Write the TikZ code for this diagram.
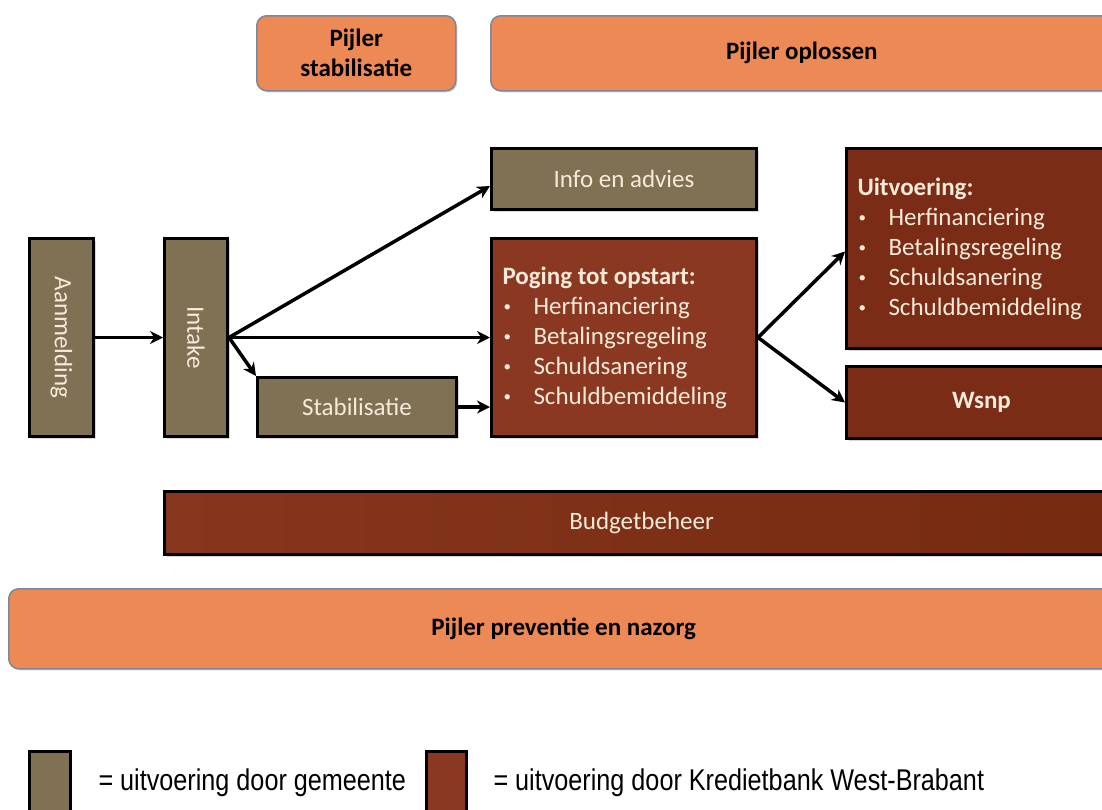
\documentclass[tikz,border=0pt]{standalone}
\usepackage{fontspec}
\setmainfont{Carlito}
\newfontfamily\legendfont[FakeStretch=0.84]{Liberation Sans}
\usetikzlibrary{arrows.meta,shadows}
\definecolor{gemcol}{RGB}{128,112,84}
\definecolor{kbcol}{RGB}{138,56,34}
\definecolor{kbdark}{RGB}{122,44,22}
\definecolor{kbleft}{RGB}{134,54,28}
\definecolor{kbright}{RGB}{118,42,16}
\definecolor{oranje}{RGB}{236,137,84}
\definecolor{pijlerrand}{RGB}{125,135,155}
\definecolor{cream}{RGB}{246,234,216}
\newcommand\bul{\makebox[31pt][l]{\hspace{1pt}\raisebox{3pt}{\fontsize{15}{15}\selectfont•}}}
\begin{document}
\begin{tikzpicture}[x=1pt,y=-1pt,
  pijler/.style={rounded corners=10pt, draw=pijlerrand, line width=1.5pt, fill=oranje,
    font=\bfseries\fontsize{25}{30}\selectfont, align=center, anchor=north west, inner sep=0pt,
    drop shadow={shadow xshift=1.5pt, shadow yshift=-1.5pt, opacity=.35}},
  box/.style={draw=black, line width=3pt, text=cream, font=\fontsize{25}{30}\selectfont,
    anchor=north west, inner sep=0pt,
    drop shadow={shadow xshift=2pt, shadow yshift=-2pt, opacity=.3}},
  gem/.style={box, fill=gemcol},
  kb/.style={box, fill=kbcol},
  lijst/.style={align=flush left, inner xsep=11pt},
  arr/.style={-{Stealth[length=13pt,width=13pt]}, line width=3.5pt},
  legbox/.style={draw=black, line width=3pt, anchor=north west, inner sep=0pt},
  legtext/.style={anchor=west, font=\legendfont\fontsize{30}{32}\selectfont}
]
\useasboundingbox (0,0) rectangle (1102,809);
\fill[white] (0,0) rectangle (1102,809);
\clip (0,0) rectangle (1102,809);

% pillars
\node[pijler, minimum width=199pt, minimum height=75pt] (pstab) at (256,15) {Pijler\\stabilisatie};
\node[pijler, minimum width=622pt, minimum height=75pt] (popl) at (490,15) {Pijler oplossen};
\node[pijler, minimum width=1110pt, minimum height=80pt] (pprev) at (8,588) {Pijler preventie en nazorg};

% process boxes
\node[gem, minimum width=64pt, minimum height=198pt] (aan) at (28,237) {\rotatebox{-90}{Aanmelding}};
\node[gem, minimum width=63pt, minimum height=198pt] (intake) at (163,237) {\rotatebox{-90}{Intake}};
\node[gem, minimum width=265pt, minimum height=61pt] (info) at (490,147) {Info en advies};
\node[gem, minimum width=199pt, minimum height=59pt] (stab) at (256,376) {Stabilisatie};
\node[kb, lijst, text width=243pt, minimum width=265pt, minimum height=198pt] (poging) at (490,237)
  {\textbf{Poging tot opstart:}\\\bul Herfinanciering\\\bul Betalingsregeling\\\bul Schuldsanering\\\bul Schuldbemiddeling};
\node[box, fill=kbdark, lijst, text width=248pt, minimum width=270pt, minimum height=200pt] (uitv) at (845,147)
  {\textbf{Uitvoering:}\\\bul Herfinanciering\\\bul Betalingsregeling\\\bul Schuldsanering\\\bul Schuldbemiddeling};
\node[box, fill=kbdark, font=\bfseries\fontsize{25}{30}\selectfont, minimum width=270pt, minimum height=72pt] (wsnp) at (845,365) {Wsnp};
\node[box, left color=kbleft, right color=kbright, minimum width=954pt, minimum height=63pt] (budget) at (163,490) {Budgetbeheer};

% connectors
\draw[arr] (aan) -- (intake);
\draw[arr] (intake.east) -- ([yshift=-7pt]info.west);
\draw[arr] (intake.east) -- (poging.west |- intake.east);
\draw[arr] (intake.east) -- (stab.north west);
\draw[arr] (stab.east) -- (stab.east -| poging.west);
\draw[arr] (poging.east) -- ([yshift=-3pt]uitv.west);
\draw[arr] (poging.east) -- (wsnp.west);

% legend
\node[legbox, fill=gemcol, minimum width=41pt, minimum height=80pt] (leg1) at (28,750) {};
\node[legtext] (leg1t) at (95,783) {= uitvoering door gemeente};
\node[legbox, fill=kbcol, minimum width=40pt, minimum height=80pt] (leg2) at (425,750) {};
\node[legtext] (leg2t) at (490,783) {= uitvoering door Kredietbank West-Brabant};
\end{tikzpicture}
\end{document}
